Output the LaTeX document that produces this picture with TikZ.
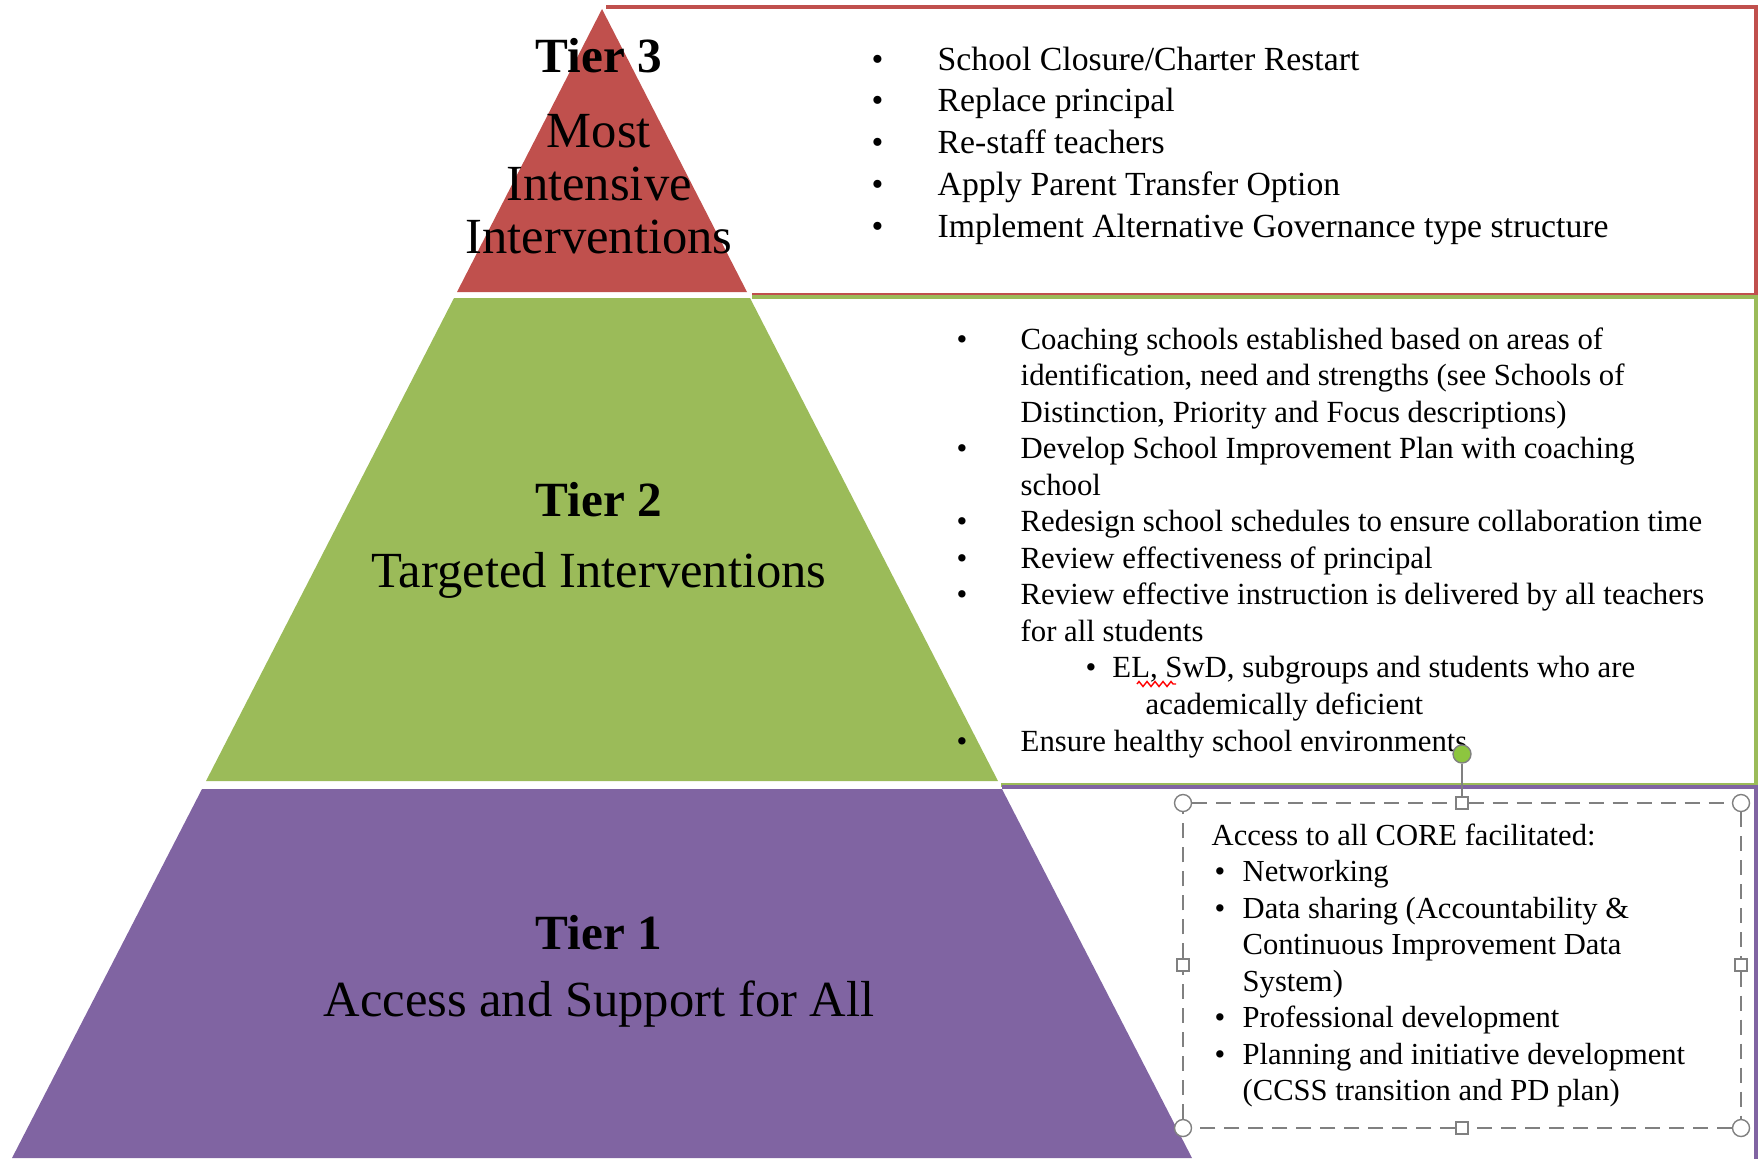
\documentclass[tikz,border=0pt]{standalone}
\usepackage{fontspec}
\setmainfont{Liberation Serif}
\usetikzlibrary{positioning,decorations.pathmorphing}
\definecolor{tierred}{HTML}{C0504D}
\definecolor{tiergreen}{HTML}{9BBB59}
\definecolor{tierpurple}{HTML}{8064A2}
\definecolor{handlegreen}{HTML}{8DC63F}

\begin{document}
\begin{tikzpicture}[
    x=0.1mm, y=-0.1mm,
    tierbox/.style={line width=1pt, line join=miter},
    tiername/.style={font=\fontsize{14}{15}\selectfont\bfseries, inner sep=0pt},
    tiersub/.style={font=\fontsize{14.4}{15}\selectfont, align=center, inner sep=0pt},
    tierlist/.style={anchor=base west, inner sep=0pt},
    cornerhandle/.style={circle, draw=gray, fill=white, inner sep=0pt, minimum size=1.7mm},
    sidehandle/.style={rectangle, draw=gray, fill=white, inner sep=0pt, minimum size=1.2mm},
    rothandle/.style={circle, draw=gray, fill=handlegreen, inner sep=0pt, minimum size=1.8mm},
    selframe/.style={draw=gray, thin, dash pattern=on 1.5mm off 0.9mm}
]
    \useasboundingbox (0,0) rectangle (1763,1158);
    \clip (0,0) rectangle (1763,1158);

    % boxes on the right
    \draw[tierbox, draw=tierred] (606,7) -- (1756,7) -- (1756,295) -- (752,295);
    \draw[tierbox, draw=tiergreen] (752,297) -- (1756,297) -- (1756,785) -- (1001,785);
    \draw[tierbox, draw=tierpurple] (1002,787) -- (1756,787) -- (1756,1170);

    % pyramid
    \fill[tierred] (602,9) -- (747,292) -- (457,292) -- cycle;
    \fill[tiergreen] (454,298) -- (750,298) -- (998,781) -- (206,781) -- cycle;
    \fill[tierpurple] (202,789) -- (1002,789) -- (1192,1158) -- (12,1158) -- cycle;

    \node[tiername] (t3name) at (599,56) {Tier 3};
    \node[tiersub] (t3sub) at (599,184) {Most\\Intensive\\Interventions};
    \node[tiername] (t2name) at (599,500) {Tier 2};
    \node[tiersub] (t2sub) at (599,575) {Targeted Interventions};
    \node[tiername] (t1name) at (599,933) {Tier 1};
    \node[tiersub] (t1sub) at (599,1004) {Access and Support for All};

    % lists
    \node[tierlist, font=\fontsize{9.6}{11.9}\selectfont] (t3list) at (871,70) {%
      \begin{tabular}[t]{@{}p{6.6mm}@{}l@{}}
        \textbullet & School Closure/Charter Restart\\
        \textbullet & Replace principal\\
        \textbullet & Re-staff teachers\\
        \textbullet & Apply Parent Transfer Option\\
        \textbullet & Implement Alternative Governance type structure
      \end{tabular}};
    \node[tierlist, font=\fontsize{8.75}{10.4}\selectfont] (t2list) at (956,349) {%
      \begin{tabular}[t]{@{}p{6.4mm}@{}l@{}}
        \textbullet & Coaching schools established based on areas of\\
                    & identification, need and strengths (see Schools of\\
                    & Distinction, Priority and Focus descriptions)\\
        \textbullet & Develop School Improvement Plan with coaching\\
                    & school\\
        \textbullet & Redesign school schedules to ensure collaboration time\\
        \textbullet & Review effectiveness of principal\\
        \textbullet & Review effective instruction is delivered by all teachers\\
                    & for all students\\
                    & \hspace*{6.5mm}\textbullet\hspace{1.6mm}EL, SwD, subgroups and students who are\\
                    & \hspace*{12.5mm}academically deficient\\
        \textbullet & Ensure healthy school environments
      \end{tabular}};
    \node[tierlist, font=\fontsize{8.7}{10.4}\selectfont] (t1list) at (1211,845) {%
      \begin{tabular}[t]{@{}p{3.1mm}@{}l@{}}
        \multicolumn{2}{@{}l@{}}{Access to all CORE facilitated:}\\
        \hspace*{0.3mm}\textbullet & Networking\\
        \hspace*{0.3mm}\textbullet & Data sharing (Accountability \&\\
                                   & Continuous Improvement Data\\
                                   & System)\\
        \hspace*{0.3mm}\textbullet & Professional development\\
        \hspace*{0.3mm}\textbullet & Planning and initiative development\\
                                   & (CCSS transition and PD plan)
      \end{tabular}};
    \draw[red, decorate, decoration={zigzag, amplitude=0.25mm, segment length=0.8mm}] (1137,684) -- (1176,684);

    % text box selection frame
    \node[cornerhandle] (fnw) at (1183,803) {};
    \node[cornerhandle] (fne) at (1741,803) {};
    \node[cornerhandle] (fse) at (1741,1128) {};
    \node[cornerhandle] (fsw) at (1183,1128) {};
    \node[sidehandle] (fn) at (1462,803) {};
    \node[sidehandle] (fe) at (1741,965) {};
    \node[sidehandle] (fs) at (1462,1128) {};
    \node[sidehandle] (fw) at (1183,965) {};
    \node[rothandle] (frot) at (1462,754) {};
    \draw[selframe] (fnw) -- (fn);
    \draw[selframe] (fn) -- (fne);
    \draw[selframe] (fne) -- (fe);
    \draw[selframe] (fe) -- (fse);
    \draw[selframe] (fse) -- (fs);
    \draw[selframe] (fs) -- (fsw);
    \draw[selframe] (fsw) -- (fw);
    \draw[selframe] (fw) -- (fnw);
    \draw[gray] (frot) -- (fn);
\end{tikzpicture}
\end{document}
